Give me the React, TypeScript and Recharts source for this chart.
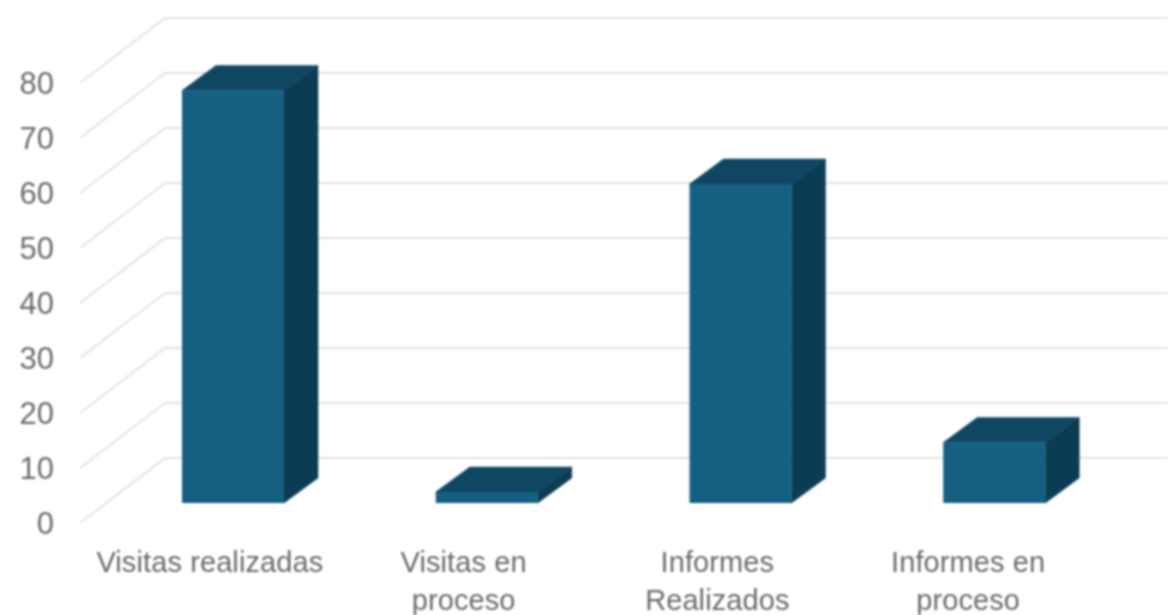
import { BarChart, Bar, XAxis, YAxis, CartesianGrid } from "recharts";

const categories = ["Visitas realizadas", "Visitas en proceso", "Informes Realizados", "Informes en proceso"];
const tickLines = [["Visitas realizadas"], ["Visitas en", "proceso"], ["Informes", "Realizados"], ["Informes en", "proceso"]];
const values = [75, 2, 58, 11];
const yTicks = [0, 10, 20, 30, 40, 50, 60, 70, 80];

const data = categories.map((name, i) => ({ name, value: values[i] }));

const textColor = "#6b6b6b";
const gridColor = "#e3e3e3";

// wall sits this far behind the front plane of the axis
const wallDx = 85;
const wallDy = 65;

const GridLine = (props: any) => {
  const { x1, y1, x2, y2 } = props;
  return (
    <g>
      <line x1={x1 - 2} y1={y1} x2={x1 + wallDx - 2} y2={y1 - wallDy} stroke={gridColor} strokeWidth={2} />
      <line x1={x1 + wallDx - 2} y1={y1 - wallDy} x2={x2 + wallDx} y2={y2 - wallDy} stroke={gridColor} strokeWidth={2} />
    </g>
  );
};

const Bar3D = (props: any) => {
  const { x, y, width, height } = props;
  const left = x + 24;
  const top = y - 20;
  const bottom = top + height;
  const right = left + width;
  const dx = 34;
  const dy = 25;
  return (
    <g>
      <polygon
        points={`${left},${top} ${right},${top} ${right + dx},${top - dy} ${left + dx},${top - dy}`}
        fill="#0f4763"
        stroke="#0f4763"
        strokeWidth={0.5}
      />
      <polygon
        points={`${right},${top} ${right + dx},${top - dy} ${right + dx},${bottom - dy} ${right},${bottom}`}
        fill="#0c3c54"
        stroke="#0c3c54"
        strokeWidth={0.5}
      />
      <rect x={left} y={top} width={width} height={height} fill="#156082" />
    </g>
  );
};

const CategoryTick = (props: any) => {
  const { x, payload } = props;
  const lines = tickLines[payload.index] || [payload.value];
  return (
    <text textAnchor="middle" fill={textColor} fontSize={29} letterSpacing={0.1}>
      {lines.map((l, i) => (
        <tspan key={l} x={x + 1 - (payload.index === 3 ? 3 : 0)} y={572 + i * 38}>
          {l}
        </tspan>
      ))}
    </text>
  );
};

export default function App() {
  return (
    <div style={{ position: "absolute", left: 0, top: 0, fontFamily: "'Liberation Sans', Arial, sans-serif", filter: "blur(0.8px)" }}>
      <BarChart width={1168} height={615} data={data} margin={{ top: 83, right: 71, bottom: 0, left: 0 }}>
        <CartesianGrid vertical={false} horizontal={(p: any) => <GridLine key={p.index} {...p} />} />
        <XAxis dataKey="name" axisLine={false} tickLine={false} height={92} interval={0} tick={<CategoryTick />} />
        <YAxis
          width={82}
          domain={[0, 80]}
          ticks={yTicks}
          axisLine={false}
          tickLine={false}
          tickMargin={0}
          tickSize={0}
          dx={-28}
          tick={{ fill: textColor, fontSize: 31 }}
        />
        <Bar dataKey="value" barSize={102} shape={<Bar3D />} isAnimationActive={false} />
      </BarChart>
    </div>
  );
}
